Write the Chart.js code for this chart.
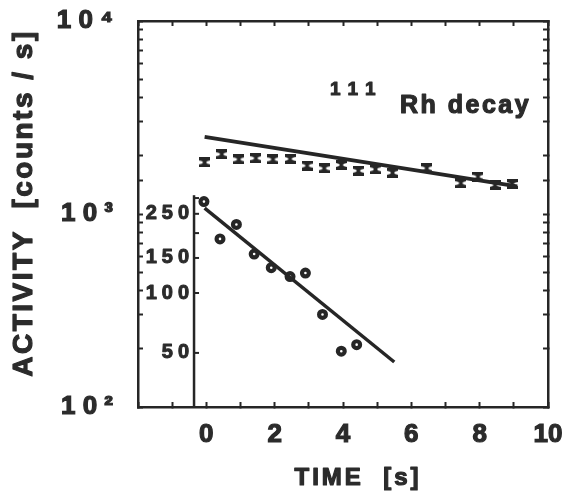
<!DOCTYPE html>
<html>
<head>
<meta charset="utf-8">
<script src="https://cdn.jsdelivr.net/npm/chart.js@4.4.1/dist/chart.umd.min.js"></script>
<style>
  html, body { margin: 0; padding: 0; background: #fff; }
  #wrap { width: 567px; height: 497px; }
</style>
</head>
<body>
<div id="wrap"><canvas id="decay" width="567" height="497"></canvas></div>
<script>
// 111Rh activity (counts/s) against time, log scale
const decayTimes = [-0.05, 0.45, 0.95, 1.45, 1.95, 2.45, 2.95, 3.45, 3.95, 4.45, 4.95, 5.45, 6.45, 7.45, 7.95, 8.45, 8.95];
const decayRates = [1850, 2040, 1920, 1945, 1920, 1930, 1780, 1725, 1795, 1675, 1705, 1635, 1725, 1445, 1560, 1415, 1430];
const fitTimes = [-0.05, 9.1];
const fitRates = [2510, 1390];

// short-lived component, plotted against its own axis
const shortTimes = [-0.07, 0.4, 0.88, 1.4, 1.9, 2.45, 2.9, 3.4, 3.95, 4.4];
const shortRates = [288, 187, 221, 157, 134, 121, 126, 78, 51, 55];
const shortFitTimes = [-0.05, 5.5];
const shortFitRates = [267, 45];

const timeTickValues = [0, 2, 4, 6, 8, 10];
const timeTickLabels = ['0', '2', '4', '6', '8', '10'];
const rateTickValues = [100, 1000, 10000];
const rateTickLabels = ['1 0 ²', '1 0 ³', '1 0 ⁴'];
const shortTickValues = [50, 100, 150, 200, 250, 300];
const shortLabelValues = [50, 100, 150, 250];

const FONT = "'Liberation Sans', Arial, Helvetica, 'DejaVu Sans', sans-serif";
const ink = '#262626';
const textInk = '#2b2b2b';

function pairs(xs, ys) {
  return xs.map((x, i) => ({ x: x, y: ys[i] }));
}

// error-bar style marker
function hourglass(w, h) {
  const c = document.createElement('canvas');
  c.width = w; c.height = h;
  const g = c.getContext('2d');
  const m = w / 2;
  g.fillStyle = ink;
  g.beginPath();
  g.moveTo(0, 0); g.lineTo(w, 0); g.lineTo(w, 3);
  g.lineTo(m + 2, h / 2 - 1); g.lineTo(m + 2, h / 2 + 1);
  g.lineTo(w, h - 3); g.lineTo(w, h); g.lineTo(0, h); g.lineTo(0, h - 3);
  g.lineTo(m - 2, h / 2 + 1); g.lineTo(m - 2, h / 2 - 1);
  g.lineTo(0, 3);
  g.closePath();
  g.fill();
  return c;
}

const frame = { color: ink, width: 2.5 };
const inwardTicks = { drawOnChartArea: false, tickLength: -5, tickColor: ink, tickWidth: 2 };

// bold text with a thin outline to thicken the strokes
function heavyText(ctx, text, x, y, weight) {
  ctx.lineWidth = weight;
  ctx.lineJoin = 'round';
  ctx.strokeText(text, x, y);
  ctx.fillText(text, x, y);
}

function pickLabel(values, labels) {
  return v => {
    const i = values.indexOf(v);
    return i >= 0 ? labels[i] : '';
  };
}

const decorations = {
  id: 'decorations',
  afterDraw(chart) {
    const ctx = chart.ctx;
    const xs = chart.scales.x;
    const ys = chart.scales.yShort;
    const area = chart.chartArea;
    ctx.save();

    // axis of the short-lived component
    const ax = xs.getPixelForValue(-0.36);
    ctx.strokeStyle = ink;
    ctx.lineWidth = 2.5;
    ctx.beginPath();
    ctx.moveTo(ax, ys.getPixelForValue(310));
    ctx.lineTo(ax, area.bottom);
    ctx.stroke();
    ctx.lineWidth = 2;
    shortTickValues.forEach(v => {
      const y = ys.getPixelForValue(v);
      ctx.beginPath();
      ctx.moveTo(ax, y);
      ctx.lineTo(ax + 5, y);
      ctx.stroke();
    });
    ctx.fillStyle = textInk;
    ctx.strokeStyle = textInk;
    ctx.font = 'bold 20px ' + FONT;
    ctx.letterSpacing = '5px';
    ctx.textAlign = 'right';
    ctx.textBaseline = 'middle';
    shortLabelValues.forEach(v => heavyText(ctx, String(v), ax, ys.getPixelForValue(v), 1));

    // axis titles
    ctx.textAlign = 'center';
    ctx.font = 'bold 24px ' + FONT;
    ctx.letterSpacing = '3px';
    heavyText(ctx, 'TIME  [s]', 358, 478, 1.2);
    ctx.save();
    ctx.translate(24, 203);
    ctx.rotate(-Math.PI / 2);
    ctx.font = 'bold 28px ' + FONT;
    ctx.letterSpacing = '2.5px';
    heavyText(ctx, 'ACTIVITY  [counts / s]', 0, 0, 1.2);
    ctx.restore();

    // nuclide label
    ctx.textAlign = 'left';
    ctx.textBaseline = 'alphabetic';
    ctx.font = 'bold 19px ' + FONT;
    ctx.letterSpacing = '8px';
    heavyText(ctx, '111', 330, 95, 1);
    ctx.font = 'bold 25px ' + FONT;
    ctx.letterSpacing = '2.5px';
    heavyText(ctx, 'Rh decay', 400, 113, 1.2);
    ctx.restore();
  }
};

new Chart(document.getElementById('decay'), {
  type: 'scatter',
  data: {
    datasets: [
      {
        label: 'fit',
        data: pairs(fitTimes, fitRates),
        showLine: true,
        borderColor: ink,
        borderWidth: 4,
        pointRadius: 0,
        yAxisID: 'y'
      },
      {
        label: '111Rh',
        data: pairs(decayTimes, decayRates),
        pointStyle: hourglass(11, 10),
        pointRadius: 5,
        yAxisID: 'y'
      },
      {
        label: 'short fit',
        data: pairs(shortFitTimes, shortFitRates),
        showLine: true,
        borderColor: ink,
        borderWidth: 3.5,
        pointRadius: 0,
        yAxisID: 'yShort'
      },
      {
        label: 'short',
        data: pairs(shortTimes, shortRates),
        pointRadius: 3.4,
        borderWidth: 4.2,
        borderColor: ink,
        backgroundColor: '#ffffff',
        yAxisID: 'yShort'
      }
    ]
  },
  options: {
    responsive: false,
    animation: false,
    events: [],
    layout: { padding: { left: 0, right: 19, top: 21, bottom: 0 } },
    plugins: { legend: { display: false }, tooltip: { enabled: false } },
    scales: {
      x: {
        type: 'linear', position: 'bottom', min: -2, max: 10,
        afterFit: s => { s.height = 90; s.paddingLeft = 0; s.paddingRight = 0; },
        border: frame,
        grid: inwardTicks,
        ticks: {
          stepSize: 1, autoSkip: false, maxRotation: 0, padding: 17, color: textInk,
          textStrokeColor: textInk, textStrokeWidth: 1.2,
          font: { family: FONT, size: 26, weight: 'bold' },
          callback: pickLabel(timeTickValues, timeTickLabels)
        }
      },
      xTop: {
        type: 'linear', position: 'top', min: -2, max: 10,
        afterFit: s => { s.height = 0; s.paddingLeft = 0; s.paddingRight = 0; },
        border: frame,
        grid: inwardTicks,
        ticks: { stepSize: 1, autoSkip: false, display: false }
      },
      y: {
        type: 'logarithmic', position: 'left', min: 100, max: 10000,
        afterFit: s => { s.width = 138; s.paddingTop = 0; s.paddingBottom = 0; },
        border: frame,
        grid: inwardTicks,
        ticks: {
          autoSkip: false, padding: 30, color: textInk,
          textStrokeColor: textInk, textStrokeWidth: 1.2,
          font: { family: FONT, size: 26, weight: 'bold' },
          callback: pickLabel(rateTickValues, rateTickLabels)
        }
      },
      yRight: {
        type: 'logarithmic', position: 'right', min: 100, max: 10000,
        afterFit: s => { s.width = 0; s.paddingTop = 0; s.paddingBottom = 0; },
        border: frame,
        grid: inwardTicks,
        ticks: { autoSkip: false, display: false }
      },
      yShort: {
        type: 'logarithmic', position: 'left', display: false, min: 26.74, max: 2327
      }
    }
  },
  plugins: [decorations]
});
</script>
</body>
</html>
